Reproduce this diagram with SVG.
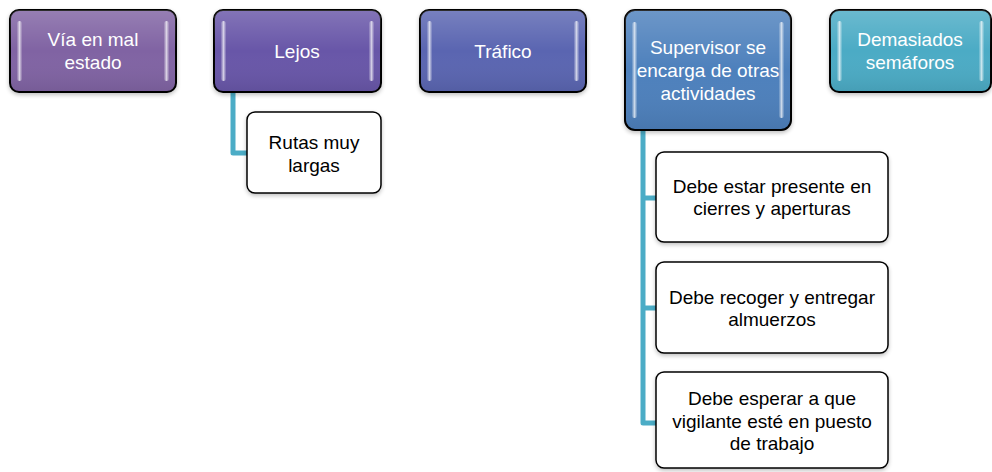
<svg xmlns="http://www.w3.org/2000/svg" width="992" height="472" viewBox="0 0 992 472">
  <defs>
    <linearGradient id="gloss" x1="0" y1="0" x2="0" y2="1">
      <stop offset="0" stop-color="#ffffff" stop-opacity="0.18"/>
      <stop offset="0.5" stop-color="#ffffff" stop-opacity="0"/>
      <stop offset="1" stop-color="#000000" stop-opacity="0.08"/>
    </linearGradient>
    <linearGradient id="bar" x1="0" y1="0" x2="1" y2="0">
      <stop offset="0" stop-color="#ffffff" stop-opacity="0.1"/>
      <stop offset="0.5" stop-color="#ffffff" stop-opacity="0.7"/>
      <stop offset="1" stop-color="#ffffff" stop-opacity="0.1"/>
    </linearGradient>
    <filter id="shadow" x="-10%" y="-10%" width="120%" height="130%">
      <feGaussianBlur in="SourceAlpha" stdDeviation="2"/>
      <feOffset dx="0" dy="2" result="b"/>
      <feComponentTransfer><feFuncA type="linear" slope="0.25"/></feComponentTransfer>
      <feMerge><feMergeNode/><feMergeNode in="SourceGraphic"/></feMerge>
    </filter>
  </defs>
  <style>
    .top { stroke: #000; stroke-width: 2; filter: url(#shadow); }
    .child { fill: #fff; stroke: #000; stroke-width: 1.5; filter: url(#shadow); }
    .hl { fill: url(#bar); }
    .tw { font-family: "Liberation Sans", Arial, sans-serif; font-size: 19px; fill: #fff; text-anchor: middle; }
    .tb { font-family: "Liberation Sans", Arial, sans-serif; font-size: 19px; fill: #000; text-anchor: middle; }
    .conn { fill: none; stroke: #4bacc6; stroke-width: 5; stroke-linejoin: round; }
  </style>

  <g id="connectors">
    <path class="conn" d="M233 92 V153 H248"/>
    <path class="conn" d="M643 130 V423 H657"/>
    <path class="conn" d="M643 198 H657"/>
    <path class="conn" d="M643 308 H657"/>
  </g>

  <g id="via">
    <rect class="top" x="10" y="10" width="166" height="82" rx="9" fill="#8063a3"/>
    <rect x="10" y="10" width="166" height="82" rx="9" fill="url(#gloss)"/>
    <rect class="hl" x="17" y="21" width="5" height="60" rx="2.5"/>
    <rect class="hl" x="164" y="21" width="5" height="60" rx="2.5"/>
    <text class="tw" x="93" y="46">Vía en mal</text>
    <text class="tw" x="93" y="69">estado</text>
  </g>

  <g id="lejos">
    <rect class="top" x="214" y="10" width="167" height="82" rx="9" fill="#6857a8"/>
    <rect x="214" y="10" width="167" height="82" rx="9" fill="url(#gloss)"/>
    <rect class="hl" x="221" y="21" width="5" height="60" rx="2.5"/>
    <rect class="hl" x="369" y="21" width="5" height="60" rx="2.5"/>
    <text class="tw" x="297" y="58">Lejos</text>
  </g>

  <g id="trafico">
    <rect class="top" x="420" y="10" width="166" height="82" rx="9" fill="#5a65b1"/>
    <rect x="420" y="10" width="166" height="82" rx="9" fill="url(#gloss)"/>
    <rect class="hl" x="427" y="21" width="5" height="60" rx="2.5"/>
    <rect class="hl" x="574" y="21" width="5" height="60" rx="2.5"/>
    <text class="tw" x="503" y="58">Tráfico</text>
  </g>

  <g id="supervisor">
    <rect class="top" x="625" y="10" width="166" height="120" rx="10" fill="#4e80bc"/>
    <rect x="625" y="10" width="166" height="120" rx="10" fill="url(#gloss)"/>
    <rect class="hl" x="632" y="22" width="5" height="96" rx="2.5"/>
    <rect class="hl" x="779" y="22" width="5" height="96" rx="2.5"/>
    <text class="tw" x="708" y="54">Supervisor se</text>
    <text class="tw" x="708" y="77">encarga de otras</text>
    <text class="tw" x="708" y="100">actividades</text>
  </g>

  <g id="semaforos">
    <rect class="top" x="830" y="10" width="161" height="82" rx="9" fill="#4babc5"/>
    <rect x="830" y="10" width="161" height="82" rx="9" fill="url(#gloss)"/>
    <rect class="hl" x="837" y="21" width="5" height="60" rx="2.5"/>
    <rect class="hl" x="979" y="21" width="5" height="60" rx="2.5"/>
    <text class="tw" x="910" y="46">Demasiados</text>
    <text class="tw" x="910" y="69">semáforos</text>
  </g>

  <g id="rutas">
    <rect class="child" x="247" y="112" width="134" height="81" rx="8"/>
    <text class="tb" x="314" y="149">Rutas muy</text>
    <text class="tb" x="314" y="172">largas</text>
  </g>

  <g id="cierres">
    <rect class="child" x="656" y="152" width="232" height="90" rx="8"/>
    <text class="tb" x="772" y="193">Debe estar presente en</text>
    <text class="tb" x="772" y="215">cierres y aperturas</text>
  </g>

  <g id="almuerzos">
    <rect class="child" x="656" y="262" width="232" height="91" rx="8"/>
    <text class="tb" x="772" y="304">Debe recoger y entregar</text>
    <text class="tb" x="772" y="326">almuerzos</text>
  </g>

  <g id="vigilante">
    <rect class="child" x="656" y="372" width="232" height="96" rx="8"/>
    <text class="tb" x="772" y="405">Debe esperar a que</text>
    <text class="tb" x="772" y="428">vigilante esté en puesto</text>
    <text class="tb" x="772" y="450">de trabajo</text>
  </g>
</svg>
